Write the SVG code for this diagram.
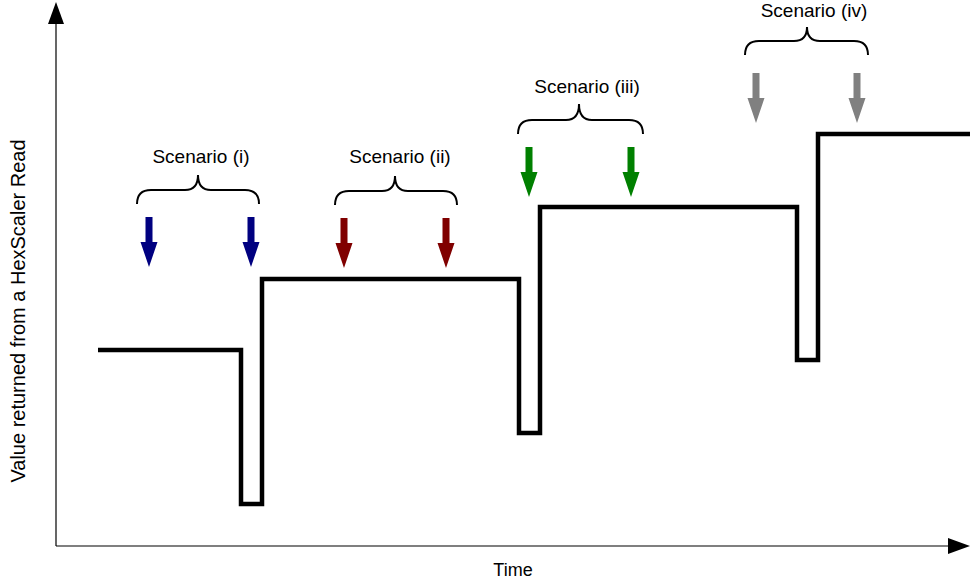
<svg xmlns="http://www.w3.org/2000/svg" xmlns:xlink="http://www.w3.org/1999/xlink" width="970" height="585" viewBox="0 0 970 585">
  <style>
    .label { font-family: "Liberation Sans", Arial, sans-serif; fill: #000; }
    .scen { font-size: 19px; text-anchor: middle; }
    .axis { stroke: #000; stroke-width: 1.2; fill: none; }
    .brace { stroke: #000; stroke-width: 2; fill: none; }
    .signal { stroke: #000; stroke-width: 4.5; fill: none; stroke-linejoin: miter; }
  </style>
  <defs>
    <!-- downward read marker, tip at the origin -->
    <path id="drop" d="M-3.5,-50 H3.5 V-25 H8.5 L0,0 L-8.5,-25 H-3.5 Z"/>
  </defs>
  <rect width="970" height="585" fill="#fff"/>

  <!-- axes -->
  <g id="axes">
    <line class="axis" x1="56" y1="546" x2="56" y2="20"/>
    <polygon points="56,2 64,24 48,24" fill="#000"/>
    <line class="axis" x1="56" y1="546" x2="950" y2="546"/>
    <polygon points="970,546 948,538 948,554" fill="#000"/>
    <text class="label" x="513" y="576" font-size="18" text-anchor="middle">Time</text>
    <text class="label" font-size="20" text-anchor="middle" transform="translate(25,311) rotate(-90)">Value returned from a HexScaler Read</text>
  </g>

  <!-- value returned over time -->
  <g id="signal">
    <path class="signal" d="M98,350 H241 V504 H262 V279 H519 V433 H540 V207 H797 V360 H818 V134 H970"/>
  </g>

  <!-- scenario (i) -->
  <g id="scenario-i">
    <text class="label scen" x="201" y="163">Scenario (i)</text>
    <path class="brace" d="M137,204 Q137,190 151,190 H185 Q198,190 198,175 Q198,190 211,190 H245 Q259,190 259,204"/>
    <use xlink:href="#drop" x="149" y="267" fill="#000080"/>
    <use xlink:href="#drop" x="251" y="267" fill="#000080"/>
  </g>

  <!-- scenario (ii) -->
  <g id="scenario-ii">
    <text class="label scen" x="400" y="163">Scenario (ii)</text>
    <path class="brace" d="M335,205 Q335,191 349,191 H382 Q395,191 395,176 Q395,191 408,191 H443 Q457,191 457,205"/>
    <use xlink:href="#drop" x="344" y="268" fill="#800000"/>
    <use xlink:href="#drop" x="446" y="268" fill="#800000"/>
  </g>

  <!-- scenario (iii) -->
  <g id="scenario-iii">
    <text class="label scen" x="587" y="93">Scenario (iii)</text>
    <path class="brace" d="M518,134 Q518,120 532,120 H566 Q579,120 579,104 Q579,120 592,120 H629 Q643,120 643,134"/>
    <use xlink:href="#drop" x="529" y="197" fill="#008000"/>
    <use xlink:href="#drop" x="631" y="197" fill="#008000"/>
  </g>

  <!-- scenario (iv) -->
  <g id="scenario-iv">
    <text class="label scen" x="814" y="17">Scenario (iv)</text>
    <path class="brace" d="M745,55 Q745,41 759,41 H794 Q807,41 807,27 Q807,41 820,41 H854 Q868,41 868,55"/>
    <use xlink:href="#drop" x="756" y="123" fill="#808080"/>
    <use xlink:href="#drop" x="857" y="123" fill="#808080"/>
  </g>
</svg>
